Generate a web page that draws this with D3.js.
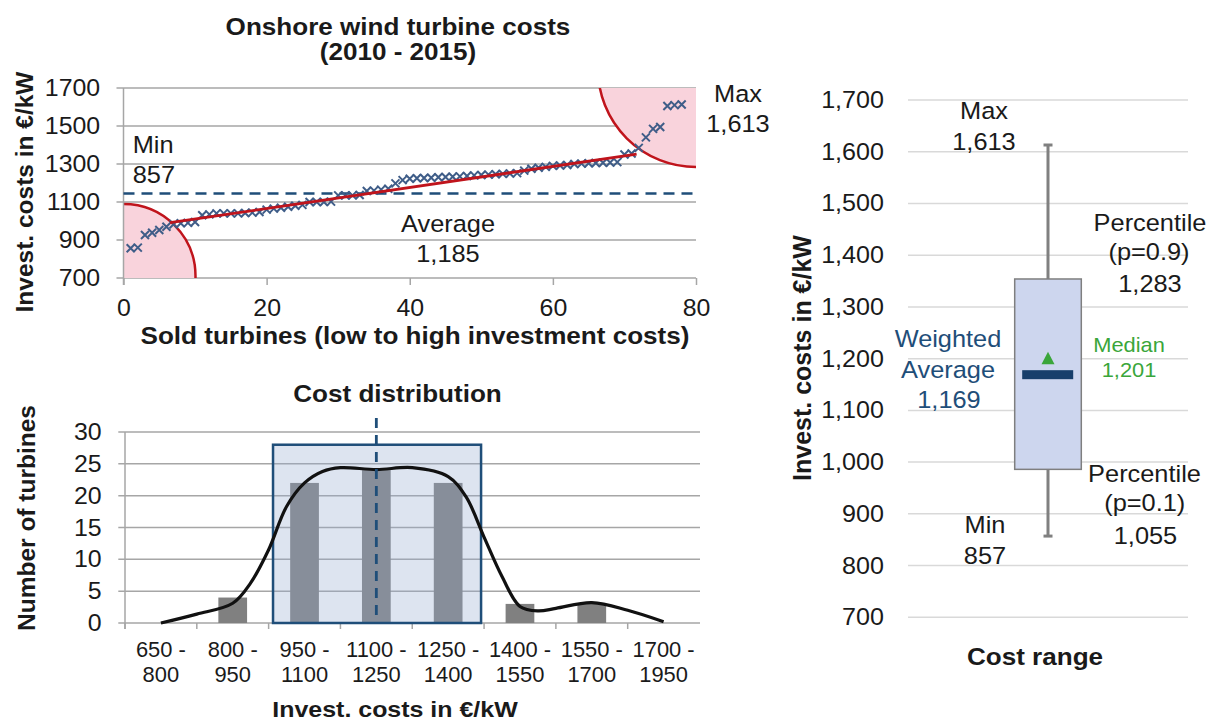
<!DOCTYPE html>
<html>
<head>
<meta charset="utf-8">
<script src="https://cdn.jsdelivr.net/npm/d3@7"></script>
<style>
  body { margin: 0; background: #fff; }
  text { font-family: "Liberation Sans", Arial, sans-serif; }
</style>
</head>
<body>
<svg id="chart" width="1209" height="722"></svg>
<script>
// ---- data ----
// sold turbines sorted low to high (EUR/kW), turbine #1..#78
var turbineCosts = [857, 860, 926, 938, 953, 970, 983, 988, 990, 995,
    1030, 1035, 1040, 1040, 1040, 1040, 1042, 1044, 1047, 1060,
    1065, 1070, 1075, 1080, 1085, 1100, 1100, 1100, 1102, 1135,
    1135, 1135, 1137, 1158, 1160, 1165, 1170, 1198, 1215, 1222,
    1225, 1226, 1228, 1230, 1232, 1233, 1235, 1237, 1240, 1242,
    1244, 1246, 1248, 1250, 1252, 1265, 1275, 1280, 1285, 1290,
    1292, 1295, 1300, 1302, 1304, 1305, 1307, 1308, 1310, 1350,
    1355, 1385, 1440, 1485, 1495, 1605, 1610, 1613];
var topYTicks = [700, 900, 1100, 1300, 1500, 1700];
var topXTicks = [0, 20, 40, 60, 80];
var trendX = [6.5, 71.7];
var trendY = [991, 1352];
var averageLine = 1145;

var costBins = ["650 - 800", "800 - 950", "950 - 1100", "1100 - 1250",
    "1250 - 1400", "1400 - 1550", "1550 - 1700", "1700 - 1950"];
var binCounts = [0, 4, 22, 24, 22, 3, 3, 0];
var countTicks = [0, 5, 10, 15, 20, 25, 30];
// smoothed distribution curve (position in bins, turbines)
var curvePos = [0.5, 1, 1.5, 1.75, 2, 2.25, 2.5, 2.75, 3, 3.5, 4, 4.5, 4.75, 5, 5.25, 5.5, 5.75, 6, 6.5, 7, 7.5];
var curveVals = [0, 1.4, 3.1, 6.3, 11.5, 18.3, 22, 23.8, 24.4, 24.1, 24.4, 23, 19.8, 13.5, 7.3, 2.6, 1.9, 2.3, 3.2, 2.0, 0.2];
var highlightTop = 28;

var boxCategory = ["Cost range"];
var boxYTicks = [700, 800, 900, 1000, 1100, 1200, 1300, 1400, 1500, 1600, 1700];
var costMin = 857, costMax = 1613;
var boxLow = 986, boxHigh = 1354;
var weightedAvg = 1169, medianCost = 1201;

var svg = d3.select("#chart");
var ink = "#1a1a1a";
var gridColor = "#a6a6a6";
var navy = "#1f4e79";
var green = "#3aa63a";

function label(g, x, y, str, o) {
    o = o || {};
    return g.append("text")
        .attr("transform", "translate(" + x + "," + y + ")" + (o.rotate ? " rotate(-90)" : " scale(" + (o.sx || 1.08) + ",1)"))
        .attr("text-anchor", o.anchor || "middle")
        .style("font-size", (o.size || 23.5) + "px")
        .style("font-weight", o.bold ? "bold" : "normal")
        .style("fill", o.color || ink)
        .text(str);
}

function styleAxis(g, size, sx) {
    g.attr("font-family", null).attr("font-size", null);
    g.select(".domain").remove();
    g.selectAll("text")
        .style("font-size", size + "px")
        .style("fill", ink)
        .attr("transform", "scale(" + sx + ",1)");
}

// ================= top: sorted turbine costs =================
var x1 = d3.scaleLinear().domain([0, 80]).range([123.5, 696]);
var y1 = d3.scaleLinear().domain([700, 1700]).range([278, 88]);
var gTop = svg.append("g");

gTop.append("defs").append("clipPath").attr("id", "clipTop")
    .append("rect")
    .attr("x", x1(0)).attr("y", y1(1700))
    .attr("width", x1(80) - x1(0)).attr("height", y1(700) - y1(1700));

gTop.append("g").selectAll("line").data(topYTicks).enter().append("line")
    .attr("x1", x1(0) - 7).attr("x2", x1(80))
    .attr("y1", function (d) { return y1(d); })
    .attr("y2", function (d) { return y1(d); })
    .attr("stroke", gridColor).attr("stroke-width", 1.5);

// min / max highlight circles
var circ = gTop.append("g").attr("clip-path", "url(#clipTop)");
circ.append("circle").attr("cx", x1(0)).attr("cy", y1(710)).attr("r", 72)
    .attr("fill", "#f9d3dc").attr("stroke", "#c0141c").attr("stroke-width", 2.5);
circ.append("circle").attr("cx", x1(80)).attr("cy", y1(1800)).attr("r", 98)
    .attr("fill", "#f9d3dc").attr("stroke", "#c0141c").attr("stroke-width", 2.5);

gTop.append("line")
    .attr("x1", x1(0)).attr("x2", x1(0))
    .attr("y1", y1(1700)).attr("y2", y1(700) + 7)
    .attr("stroke", gridColor).attr("stroke-width", 1.5);

var axTopX = gTop.append("g").attr("transform", "translate(0," + y1(700) + ")")
    .call(d3.axisBottom(x1).tickValues(topXTicks).tickSize(7).tickPadding(14));
styleAxis(axTopX, 23.5, 1.06);
axTopX.selectAll("line").attr("stroke", gridColor).attr("stroke-width", 1.5);

var axTopY = gTop.append("g").attr("transform", "translate(" + x1(0) + ",0)")
    .call(d3.axisLeft(y1).tickValues(topYTicks).tickFormat(d3.format("d")).tickSize(0).tickPadding(22));
styleAxis(axTopY, 23.5, 1.06);

// average (dashed)
gTop.append("line")
    .attr("x1", x1(0)).attr("x2", x1(80))
    .attr("y1", y1(averageLine)).attr("y2", y1(averageLine))
    .attr("stroke", navy).attr("stroke-width", 2.6).attr("stroke-dasharray", "11,7");

// crosses
gTop.append("g").selectAll("path").data(turbineCosts).enter().append("path")
    .attr("transform", function (d, i) { return "translate(" + x1(i + 1) + "," + y1(d) + ")"; })
    .attr("d", "M-4,-4L4,4M-4,4L4,-4")
    .attr("stroke", "#3f5d88").attr("stroke-width", 2).attr("fill", "none");

// trend
gTop.append("line")
    .attr("x1", x1(trendX[0])).attr("y1", y1(trendY[0]))
    .attr("x2", x1(trendX[1])).attr("y2", y1(trendY[1]))
    .attr("stroke", "#c0141c").attr("stroke-width", 2.8);

label(gTop, 398, 35, "Onshore wind turbine costs", { bold: true, sx: 1.11 });
label(gTop, 398, 60, "(2010 - 2015)", { bold: true, sx: 1.11 });
label(gTop, 132.7, 152.7, "Min", { anchor: "start" });
label(gTop, 132.7, 182.7, "857", { anchor: "start" });
label(gTop, 448, 231.7, "Average");
label(gTop, 448, 261.7, "1,185");
label(gTop, 738, 101.7, "Max");
label(gTop, 738, 131.7, "1,613");
label(gTop, 415, 344, "Sold turbines (low to high investment costs)", { bold: true, sx: 1.11 });
label(gTop, 33, 192, "Invest. costs in €/kW", { bold: true, rotate: true, size: 24.5 });

// ================= bottom: cost distribution =================
var xb = d3.scaleBand().domain(costBins).range([125, 699.5]);
var xc = d3.scaleLinear().domain([0, costBins.length]).range([125, 699.5]);
var yb = d3.scaleLinear().domain([0, 30]).range([623, 432]);
var bw = xb.bandwidth();
var gBot = svg.append("g");

gBot.append("g").selectAll("line").data(countTicks).enter().append("line")
    .attr("x1", xb.range()[0] - 6.7).attr("x2", 700)
    .attr("y1", function (d) { return yb(d); })
    .attr("y2", function (d) { return yb(d); })
    .attr("stroke", gridColor).attr("stroke-width", 1.5);

gBot.append("line")
    .attr("x1", xb.range()[0]).attr("x2", xb.range()[0])
    .attr("y1", yb(30)).attr("y2", yb(0) + 6)
    .attr("stroke", gridColor).attr("stroke-width", 1.5);

gBot.append("g").selectAll("line").data(costBins).enter().append("line")
    .attr("x1", function (d) { return xb(d); })
    .attr("x2", function (d) { return xb(d); })
    .attr("y1", yb(0)).attr("y2", yb(0) + 6)
    .attr("stroke", gridColor).attr("stroke-width", 1.5);

var axBotY = gBot.append("g").attr("transform", "translate(" + xb.range()[0] + ",0)")
    .call(d3.axisLeft(yb).tickValues(countTicks).tickSize(0).tickPadding(22));
styleAxis(axBotY, 23.5, 1.06);

gBot.append("g").selectAll("rect").data(binCounts).enter().append("rect")
    .attr("x", function (d, i) { return xb(costBins[i]) + bw * 0.3; })
    .attr("width", bw * 0.4)
    .attr("y", function (d) { return yb(d); })
    .attr("height", function (d) { return yb(0) - yb(d); })
    .attr("fill", "#808080");

// highlighted range
var hx0 = xb(costBins[2]) + 4.4;
var hx1 = xb(costBins[4]) + bw - 3;
gBot.append("rect")
    .attr("x", hx0).attr("y", yb(highlightTop))
    .attr("width", hx1 - hx0).attr("height", yb(0) - yb(highlightTop))
    .attr("fill", "rgb(149,171,208)").attr("fill-opacity", 0.32)
    .attr("stroke", navy).attr("stroke-width", 2.5);

var curve = d3.line()
    .x(function (d, i) { return xc(curvePos[i]); })
    .y(function (d) { return yb(d); })
    .curve(d3.curveCatmullRom.alpha(0.5));
gBot.append("path").datum(curveVals)
    .attr("d", curve)
    .attr("fill", "none").attr("stroke", "#111").attr("stroke-width", 3.2);

var midX = xb(costBins[3]) + bw / 2;
gBot.append("line")
    .attr("x1", midX).attr("x2", midX)
    .attr("y1", yb(32.2)).attr("y2", yb(0))
    .attr("stroke", navy).attr("stroke-width", 2.8).attr("stroke-dasharray", "10,7");

costBins.forEach(function (c) {
    var parts = c.split(" - ");
    var cx = xb(c) + bw / 2;
    label(gBot, cx, 657, parts[0] + " -", { size: 21.5, sx: 1.02 });
    label(gBot, cx, 682, parts[1], { size: 21.5, sx: 1.02 });
});

label(gBot, 397.5, 401.7, "Cost distribution", { bold: true, sx: 1.11 });
label(gBot, 395, 716.5, "Invest. costs in €/kW", { bold: true, sx: 1.11, size: 22.5 });
label(gBot, 35, 518, "Number of turbines", { bold: true, rotate: true, size: 24.5 });

// ================= right: box plot =================
var xr = d3.scaleBand().domain(boxCategory).range([908, 1188]);
var yr = d3.scaleLinear().domain([700, 1700]).range([617.3, 100]);
var gBox = svg.append("g");
var bx = xr(boxCategory[0]) + xr.bandwidth() / 2;

gBox.append("g").selectAll("line").data(boxYTicks).enter().append("line")
    .attr("x1", xr.range()[0]).attr("x2", xr.range()[1])
    .attr("y1", function (d) { return yr(d); })
    .attr("y2", function (d) { return yr(d); })
    .attr("stroke", "#d9d9d9").attr("stroke-width", 1.5);

var axBox = gBox.append("g").attr("transform", "translate(" + xr.range()[0] + ",0)")
    .call(d3.axisLeft(yr).tickValues(boxYTicks).tickFormat(d3.format(",")).tickSize(0).tickPadding(22.4));
styleAxis(axBox, 23.5, 1.07);

// whisker
gBox.append("line")
    .attr("x1", bx).attr("x2", bx).attr("y1", yr(costMax)).attr("y2", yr(costMin))
    .attr("stroke", "#808080").attr("stroke-width", 3);
[costMin, costMax].forEach(function (v) {
    gBox.append("line")
        .attr("x1", bx - 4.5).attr("x2", bx + 4.5).attr("y1", yr(v)).attr("y2", yr(v))
        .attr("stroke", "#808080").attr("stroke-width", 3);
});

gBox.append("rect")
    .attr("x", bx - 33.3).attr("width", 66.6)
    .attr("y", yr(boxHigh)).attr("height", yr(boxLow) - yr(boxHigh))
    .attr("fill", "#cdd6ee").attr("stroke", "#7f7f7f").attr("stroke-width", 1.5);

gBox.append("rect")
    .attr("x", bx - 25.8).attr("width", 51)
    .attr("y", yr(weightedAvg) - 4.5).attr("height", 9)
    .attr("fill", "#173f6b");

gBox.append("path")
    .attr("transform", "translate(" + bx + "," + yr(medianCost) + ")")
    .attr("d", "M0,-6.5L6.5,6L-6.5,6Z")
    .attr("fill", green);

label(gBox, 984, 119.3, "Max");
label(gBox, 984, 150, "1,613");
label(gBox, 1150, 230.7, "Percentile");
label(gBox, 1149, 260, "(p=0.9)");
label(gBox, 1150, 291.7, "1,283");
label(gBox, 948, 346.7, "Weighted", { color: navy });
label(gBox, 948, 378.3, "Average", { color: navy });
label(gBox, 949, 408.3, "1,169", { color: navy });
label(gBox, 1129, 352, "Median", { color: green, size: 21, sx: 1.04 });
label(gBox, 1129, 376.7, "1,201", { color: green, size: 21, sx: 1.04 });
label(gBox, 1144.5, 481.7, "Percentile");
label(gBox, 1144.7, 510.5, "(p=0.1)");
label(gBox, 1145.5, 544, "1,055");
label(gBox, 985, 533.3, "Min");
label(gBox, 985, 564, "857");
label(gBox, 1035, 665, "Cost range", { bold: true, sx: 1.11 });
label(gBox, 811, 358, "Invest. costs in €/kW", { bold: true, rotate: true, size: 25 });
</script>
</body>
</html>
